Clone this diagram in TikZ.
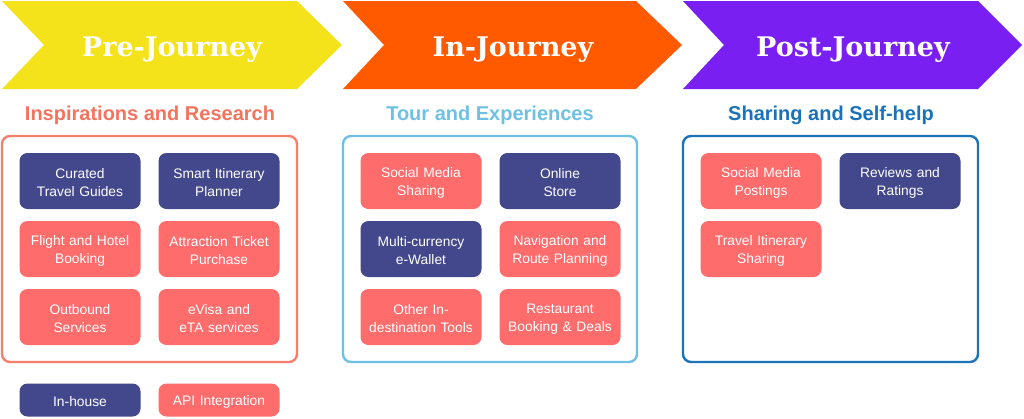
\documentclass[tikz,border=0pt]{standalone}
\usepackage{fontspec}
\setmainfont{Liberation Sans}
\newfontfamily\slabfont{DejaVu Serif}
\definecolor{cyel}{HTML}{F4E21A}
\definecolor{corg}{HTML}{FF5A00}
\definecolor{cpur}{HTML}{7A1FF2}
\definecolor{cnavy}{HTML}{43488C}
\definecolor{csal}{HTML}{FE6C6C}
\definecolor{cframeA}{HTML}{F47F6B}
\definecolor{cframeB}{HTML}{6EC1E4}
\definecolor{cframeC}{HTML}{1A72B8}
\definecolor{csubA}{HTML}{F2735E}
\tikzset{
  phasetitle/.style={text=white,font=\slabfont\bfseries\fontsize{27}{30}\selectfont},
  subtitle/.style={font=\bfseries\fontsize{20}{24}\selectfont},
  frame/.style={draw,line width=2.4pt,rounded corners=8pt,fill=white},
  item/.style={rounded corners=8pt,minimum width=121pt,minimum height=56pt,text width=120pt,align=center,text=white,font=\fontsize{13.8}{18}\selectfont,inner sep=0pt,execute at begin node={\rule{0pt}{14pt}}},
  inh/.style={item,fill=cnavy},
  api/.style={item,fill=csal},
  legend/.style={item,minimum height=33pt}
}
\begin{document}
\begin{tikzpicture}[x=1pt,y=-1pt]
\useasboundingbox (0,0) rectangle (1024,418);
% chevrons
\fill[cyel] (2,1) -- (297,1) -- (342,45) -- (297,89) -- (2,89) -- (44,45) -- cycle;
\fill[corg] (343,1) -- (636,1) -- (682,45) -- (636,89) -- (343,89) -- (384,45) -- cycle;
\fill[cpur] (683,1) -- (978,1) -- (1022,45) -- (978,89) -- (683,89) -- (724,45) -- cycle;
\node[phasetitle] (t1) at (172,49.5) {Pre-Journey};
\node[phasetitle] (t2) at (513,49.5) {In-Journey};
\node[phasetitle] (t3) at (853,49.5) {Post-Journey};
% subtitles
\node[subtitle,text=csubA] (s1) at (150,115) {Inspirations and Research};
\node[subtitle,text=cframeB] (s2) at (490,115) {Tour and Experiences};
\node[subtitle,text=cframeC] (s3) at (831,115) {Sharing and Self-help};
% frames
\draw[frame,draw=cframeA] (2,136) rectangle (297,362);
\draw[frame,draw=cframeB] (343,136) rectangle (637,362);
\draw[frame,draw=cframeC] (683,136) rectangle (978,362);
% column 1
\node[inh] (a1) at (80,181) {Curated\\Travel Guides};
\node[inh] (a2) at (219,181) {Smart Itinerary\\Planner};
\node[api] (a3) at (80,249) {Flight and Hotel\\Booking};
\node[api] (a4) at (219,249) {Attraction Ticket\\Purchase};
\node[api] (a5) at (80,317) {Outbound\\Services};
\node[api] (a6) at (219,317) {eVisa and\\eTA services};
% column 2
\node[api] (b1) at (421,181) {Social Media\\Sharing};
\node[inh] (b2) at (560,181) {Online\\Store};
\node[inh] (b3) at (421,249) {Multi-currency\\e-Wallet};
\node[api] (b4) at (560,249) {Navigation and\\Route Planning};
\node[api] (b5) at (421,317) {Other In-\\destination Tools};
\node[api] (b6) at (560,317) {Restaurant\\Booking \& Deals};
% column 3
\node[api] (c1) at (761,181) {Social Media\\Postings};
\node[inh] (c2) at (900,181) {Reviews and\\Ratings};
\node[api] (c3) at (761,249) {Travel Itinerary\\Sharing};
% legend
\node[legend,fill=cnavy] (l1) at (80,400) {In-house};
\node[legend,fill=csal] (l2) at (219,400) {API Integration};
\end{tikzpicture}
\end{document}
